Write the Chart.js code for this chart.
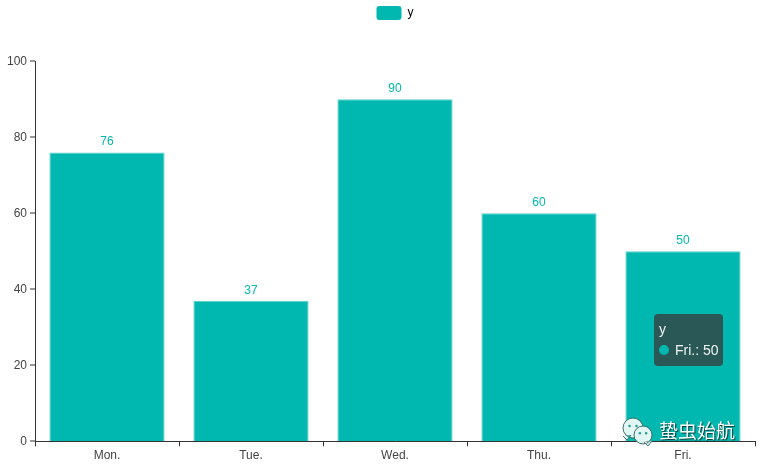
<!DOCTYPE html>
<html>
<head>
<meta charset="utf-8">
<script src="https://cdn.jsdelivr.net/npm/chart.js@4"></script>
<style>
  html, body { margin: 0; padding: 0; background: #fff; }
  #wrap { width: 760px; height: 466px; }
</style>
</head>
<body>
<div id="wrap"><canvas id="grafico" width="760" height="466"></canvas></div>
<script>
const categories = ['Mon.', 'Tue.', 'Wed.', 'Thu.', 'Fri.'];
const seriesName = 'y';
const seriesValues = [76, 37, 90, 60, 50];
const yTicks = [0, 20, 40, 60, 80, 100];
const hoveredIndex = 4;
const watermark = '蛰虫始航';

const teal = '#00b8af';
const fontName = '"Liberation Sans", Arial, sans-serif';

// value labels above each bar
const barLabels = {
  id: 'barLabels',
  afterDatasetsDraw(chart) {
    const c = chart.ctx;
    c.save();
    c.font = '12px ' + fontName;
    c.fillStyle = teal;
    c.textAlign = 'center';
    c.textBaseline = 'middle';
    chart.getDatasetMeta(0).data.forEach((bar, i) => {
      c.fillText(seriesValues[i], bar.x, bar.y - 10.5);
    });
    c.restore();
  }
};

// the tooltip that was open on the last bar, and the logo on top of it
const overlay = {
  id: 'overlay',
  afterDraw(chart) {
    const c = chart.ctx;
    const bar = chart.getDatasetMeta(0).data[hoveredIndex];
    const left = bar.x - 29;
    const top = Math.round(bar.y) + 63;

    c.save();
    c.fillStyle = '#295856';
    c.beginPath();
    c.roundRect(left, top, 69, 52, 4);
    c.fill();

    c.font = '14px ' + fontName;
    c.textBaseline = 'middle';
    c.fillStyle = '#eef2f1';
    c.fillText(seriesName, left + 5, top + 16);
    c.fillText(categories[hoveredIndex] + ': ' + seriesValues[hoveredIndex], left + 21, top + 37);
    c.fillStyle = teal;
    c.beginPath();
    c.arc(left + 10, top + 36, 5, 0, Math.PI * 2);
    c.fill();

    // wechat style logo
    const bubble = (x, y, r, tx, ty) => {
      c.fillStyle = '#e2f6f4';
      c.strokeStyle = '#3d6f6c';
      c.lineWidth = 1;
      c.beginPath();
      c.arc(x, y, r, 0, Math.PI * 2);
      c.moveTo(x + tx - 4, y + ty - 4);
      c.lineTo(x + tx, y + ty);
      c.lineTo(x + tx + 4, y + ty - 5);
      c.fill();
      c.stroke();
      c.fillStyle = '#2a9d96';
      c.beginPath();
      c.arc(x - r * 0.35, y - r * 0.2, 1.3, 0, Math.PI * 2);
      c.arc(x + r * 0.35, y - r * 0.2, 1.3, 0, Math.PI * 2);
      c.fill();
    };
    bubble(633, 428, 10, -6, 12);
    bubble(643, 435, 9, 5, 11);

    c.font = '19px "Noto Sans CJK SC"';
    c.textBaseline = 'middle';
    c.fillStyle = '#ffffff';
    c.shadowColor = 'rgba(0,0,0,0.7)';
    c.shadowBlur = 1;
    c.shadowOffsetX = 1;
    c.shadowOffsetY = 1;
    c.fillText(watermark, 659, 431);
    c.restore();
  }
};

new Chart(document.getElementById('grafico').getContext('2d'), {
  type: 'bar',
  data: {
    labels: categories,
    datasets: [{
      label: seriesName,
      data: seriesValues,
      backgroundColor: teal,
      borderColor: '#57d0c9',
      borderWidth: 1,
      borderSkipped: 'bottom',
      barPercentage: 0.8,
      categoryPercentage: 1
    }]
  },
  options: {
    responsive: false,
    animation: false,
    events: [],
    layout: { padding: { top: 0, left: 0, right: 5, bottom: 0 } },
    scales: {
      x: {
        afterFit(scale) { scale.height = 24.7; },
        border: { color: '#333', width: 1, z: 1 },
        grid: { drawOnChartArea: false, color: '#333', tickLength: 5, offset: true },
        ticks: { color: '#444', font: { family: fontName, size: 12 }, padding: 2, maxRotation: 0 }
      },
      y: {
        min: 0,
        max: 100,
        afterBuildTicks(scale) { scale.ticks = yTicks.map(v => ({ value: v })); },
        afterFit(scale) { scale.width = 35; },
        border: { color: '#333', width: 1, z: 1 },
        // lineWidth 0 so the bars run right down to the axis line
        grid: { drawOnChartArea: false, color: '#333', lineWidth: 0, tickWidth: 1, tickLength: 5 },
        ticks: { color: '#444', font: { family: fontName, size: 12 }, padding: 3 }
      }
    },
    plugins: {
      tooltip: { enabled: false },
      legend: {
        position: 'top',
        fullSize: false,
        labels: {
          boxWidth: 25,
          boxHeight: 14,
          padding: 6,
          color: '#555',
          font: { family: fontName, size: 12 },
          generateLabels(chart) {
            return [{
              text: seriesName,
              fillStyle: teal,
              strokeStyle: teal,
              lineWidth: 0,
              borderRadius: 3,
              datasetIndex: 0
            }];
          },
          useBorderRadius: true,
          borderRadius: 3
        }
      },
      // empty title only keeps the gap between legend and plot
      title: { display: true, text: '', weight: 500, font: { size: 1 }, padding: { top: 0, bottom: 30.1 } }
    }
  },
  plugins: [barLabels, overlay]
});
</script>
</body>
</html>
